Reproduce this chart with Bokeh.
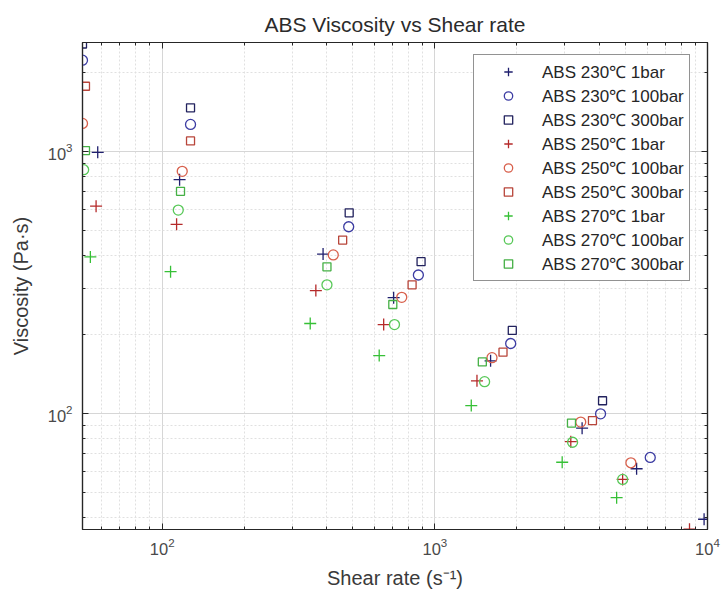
from bokeh.plotting import figure
from bokeh.models import FixedTicker, LogAxis, Range1d, Legend
from bokeh.embed import file_html
from bokeh.resources import INLINE

# ---- data ----
x_230_1 = [58, 115.8, 389, 706, 1601, 3468, 5495, 9716]
y_230_1 = [990, 779, 405, 276, 158.5, 87.7, 61.4, 39.4]
x_230_100 = [51, 127, 483, 870, 1897, 4053, 6166]
y_230_100 = [2225, 1266, 515, 337, 184.6, 99.5, 67.8]
x_230_300 = [51, 127, 485, 890, 1923, 4121]
y_230_300 = [2566, 1465, 582, 379, 207, 111.6]

x_250_1 = [57.2, 112.9, 366, 649, 1427, 3152, 4883, 8590]
y_250_1 = [617, 526, 294, 218, 133, 77.9, 55.9, 36.1]
x_250_100 = [51, 118.4, 424, 756, 1620, 3428, 5236]
y_250_100 = [1277, 838, 402, 277, 163, 92.5, 64.7]
x_250_300 = [52.3, 127, 459, 825, 1778, 3785]
y_250_300 = [1770, 1095, 458, 309, 171, 93.8]

x_270_1 = [54.5, 107.3, 349, 625, 1360, 2931, 4642]
y_270_1 = [395, 347, 220, 166, 107, 65, 47.6]
x_270_100 = [51.5, 114.5, 402, 711, 1522, 3200, 4883]
y_270_100 = [850, 596, 309, 218, 132, 77.5, 55.9]
x_270_300 = [52.3, 116.7, 402, 701, 1493, 3170]
y_270_300 = [1006, 703, 362, 260, 157, 91.7]

labels = ["ABS 230\u2103 1bar", "ABS 230\u2103 100bar", "ABS 230\u2103 300bar",
          "ABS 250\u2103 1bar", "ABS 250\u2103 100bar", "ABS 250\u2103 300bar",
          "ABS 270\u2103 1bar", "ABS 270\u2103 100bar", "ABS 270\u2103 300bar"]

x_major = [100, 1000, 10000]
x_minor = [60, 70, 80, 90, 200, 300, 400, 500, 600, 700, 800, 900,
           2000, 3000, 4000, 5000, 6000, 7000, 8000, 9000]
y_major = [100, 1000]
y_minor = [40, 50, 60, 70, 80, 90, 200, 300, 400, 500, 600, 700, 800, 900, 2000]

FONT = "Liberation Sans"

p = figure(width=721, height=598, x_axis_type="log", y_axis_type="log",
           x_range=Range1d(51, 10000), y_range=Range1d(36, 2600),
           output_backend="svg", toolbar_location=None,
           min_border_left=82, min_border_right=14, min_border_top=42,
           min_border_bottom=69)
p.background_fill_color = "white"
p.border_fill_color = "white"
p.outline_line_color = "#262626"
p.outline_line_width = 1.2

p.title.text = "ABS Viscosity vs Shear rate"
p.title.align = "center"
p.title.text_font = FONT
p.title.text_font_size = "21px"
p.title.text_font_style = "normal"
p.title.text_color = "#2b2b2b"
p.title.standoff = 13

xt = FixedTicker(ticks=x_major, minor_ticks=x_minor)
yt = FixedTicker(ticks=y_major, minor_ticks=y_minor)

def style_axis(ax, ticker, show_labels=True):
    ax.ticker = ticker
    ax.axis_line_color = "#262626"
    ax.axis_line_width = 1.2
    ax.major_tick_line_color = "#262626"
    ax.minor_tick_line_color = "#262626"
    ax.major_tick_in = 6
    ax.major_tick_out = 0
    ax.minor_tick_in = 3
    ax.minor_tick_out = 0
    ax.major_label_text_font = FONT
    ax.major_label_text_font_size = "16.5px"
    ax.major_label_text_color = "#4a4a4a"
    ax.axis_label_text_font = FONT
    ax.axis_label_text_font_size = "20px"
    ax.axis_label_text_font_style = "normal"
    ax.axis_label_text_color = "#3a3a3a"
    if not show_labels:
        ax.major_label_text_font_size = "1px"
        ax.major_label_text_color = None
        ax.major_label_standoff = 0

style_axis(p.xaxis[0], xt)
style_axis(p.yaxis[0], yt)
p.xaxis[0].axis_label = "Shear rate (s\u207b\u00b9)"
p.yaxis[0].axis_label = "Viscosity (Pa\u00b7s)"
p.xaxis[0].major_label_standoff = 8
p.yaxis[0].major_label_standoff = 10
p.xaxis[0].axis_label_standoff = 9
p.yaxis[0].axis_label_standoff = 13

top = LogAxis()
right = LogAxis()
style_axis(top, FixedTicker(ticks=x_major, minor_ticks=x_minor), show_labels=False)
style_axis(right, FixedTicker(ticks=y_major, minor_ticks=y_minor), show_labels=False)
p.add_layout(top, "above")
p.add_layout(right, "right")

for g in (p.xgrid[0], p.ygrid[0]):
    g.grid_line_color = "#d6d6d6"
    g.grid_line_width = 1
    g.minor_grid_line_color = "#e0e0e0"
    g.minor_grid_line_dash = "2 2"
    g.minor_grid_line_width = 1

series = [
    (x_230_1, y_230_1, "cross", 12, "#1f1f6e"),
    (x_230_100, y_230_100, "circle", 10, "#3d3da3"),
    (x_230_300, y_230_300, "square", 8, "#22225e"),
    (x_250_1, y_250_1, "cross", 12, "#b52a2a"),
    (x_250_100, y_250_100, "circle", 10, "#d8604c"),
    (x_250_300, y_250_300, "square", 8, "#b8453a"),
    (x_270_1, y_270_1, "cross", 12, "#36c036"),
    (x_270_100, y_270_100, "circle", 10, "#58c858"),
    (x_270_300, y_270_300, "square", 8, "#45b045"),
]

items = []
for (xs, ys, mk, sz, col), lab in zip(series, labels):
    r = p.scatter(xs, ys, marker=mk, size=sz, fill_color=None,
                  line_color=col, line_width=1.3)
    items.append((lab, [r]))

legend = Legend(items=items, location=(391, 248))
legend.label_text_font = FONT
legend.label_text_font_size = "17px"
legend.label_text_color = "#262626"
legend.border_line_color = "#262626"
legend.border_line_width = 1
legend.background_fill_color = "white"
legend.background_fill_alpha = 1
legend.glyph_width = 58
legend.glyph_height = 21
legend.label_height = 21
legend.spacing = 1
legend.padding = 5
legend.label_standoff = 5
legend.margin = 0
p.add_layout(legend, "center")

open("out.html", "w").write(file_html(p, INLINE))
